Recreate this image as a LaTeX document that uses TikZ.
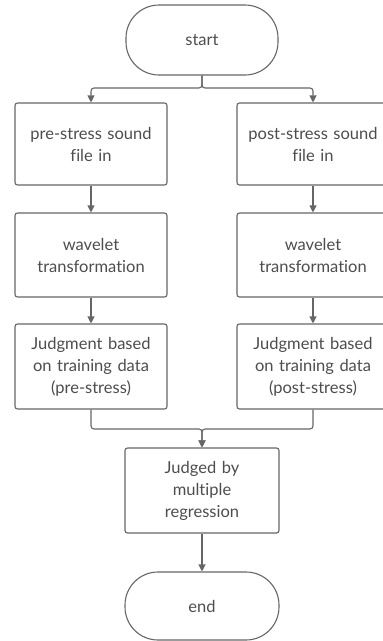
\documentclass[tikz,border=0pt]{standalone}
\usepackage{fontspec}
\setmainfont[Ligatures=NoCommon]{Lato}
\usetikzlibrary{arrows.meta}
\definecolor{linegray}{HTML}{666666}
\definecolor{textgray}{HTML}{4D4D4D}

\begin{document}
\begin{tikzpicture}[x=1pt, y=-1pt,
    box/.style={draw=linegray, line width=1.1pt, rounded corners=2.5pt, minimum width=152pt, minimum height=84pt, text width=148pt, align=center, text=textgray, font=\fontsize{16.5}{22}\selectfont, inner sep=0pt},
    term/.style={box, rounded corners=33pt, minimum height=70pt},
    line/.style={draw=linegray, line width=1.1pt, rounded corners=3pt, -{Triangle[length=7pt,width=7pt]}}]
  \useasboundingbox (0,0) rectangle (383,641);
  % start and the two branches
  \node[term] (start) at (202,40) {start};
  \coordinate (split) at (202,88);
  \node[box, minimum height=82pt] (pre1) at (91,144) {pre-stress sound\\file in};
  \node[box, minimum height=82pt] (post1) at (313,144) {post-stress sound\\file in};
  \node[box] (pre2) at (91,255) {wavelet\\transformation};
  \node[box] (post2) at (313,255) {wavelet\\transformation};
  \node[box, minimum height=85pt] (pre3) at (91,366.5) {Judgment based\\on training data\\(pre-stress)};
  \node[box, minimum height=85pt] (post3) at (313,366.5) {Judgment based\\on training data\\(post-stress)};
  % merge and end
  \coordinate (join) at (202,429);
  \node[box, minimum width=154pt, minimum height=85pt] (judge) at (202,490.5) {Judged by\\multiple\\regression};
  \node[term, minimum width=154pt, minimum height=68pt] (end) at (202,606) {end};

  \draw[line] (start) -- (split) -| (pre1);
  \draw[line] (start) -- (split) -| (post1);
  \draw[line] (pre1) -- (pre2);
  \draw[line] (post1) -- (post2);
  \draw[line] (pre2) -- (pre3);
  \draw[line] (post2) -- (post3);
  \draw[line] (pre3) |- (join) -- (judge);
  \draw[line] (post3) |- (join) -- (judge);
  \draw[line] (judge) -- (end);
\end{tikzpicture}
\end{document}
